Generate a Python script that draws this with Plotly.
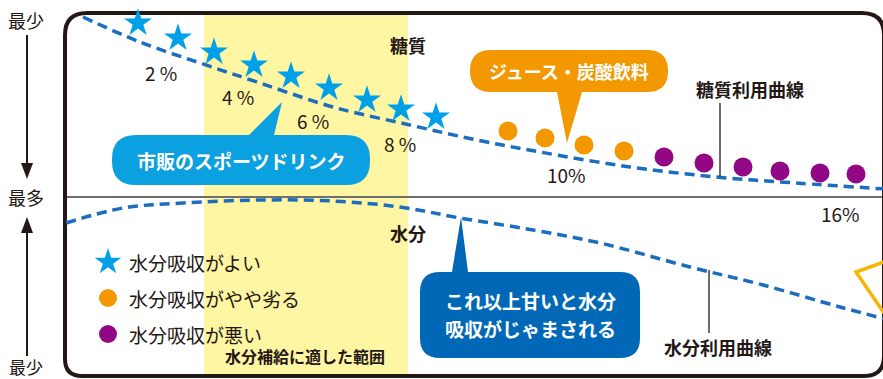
import plotly.graph_objects as go

# ---- data (pixel-domain coordinates, y grows downward) ----
star_x = [138, 178, 214, 254, 291, 329, 367, 401, 436]
star_y = [23, 38, 52, 65, 76, 88, 100, 109, 117]
orange_x = [508, 545, 584, 624]
orange_y = [131, 138, 145, 151]
purple_x = [664, 704, 743, 780, 820, 856]
purple_y = [157, 163, 167, 171, 173, 174]

sugar_x = [83, 140, 200, 260, 333, 410, 477, 540, 630, 716, 796, 885]
sugar_y = [17, 42, 63, 83, 107, 125, 140, 152, 167, 177, 183, 189]
water_x = [66, 123, 183, 260, 333, 400, 460, 533, 600, 690, 763, 840, 885]
water_y = [223, 208, 203, 200, 201, 207, 218, 230, 243, 267, 285, 307, 319]

pct_labels = ["2 %", "4 %", "6 %", "8 %", "10%", "16%"]
pct_x = [161, 238, 313, 400, 566, 840]
pct_y = [72, 96, 120, 143, 174, 213]

legend_labels = ["水分吸収がよい", "水分吸収がやや劣る", "水分吸収が悪い"]
legend_y = [262, 298, 334]
legend_x = [108, 108, 108]

STAR = "#00A0E9"
ORANGE = "#F39800"
PURPLE = "#920783"
LINE = "#1A6DBF"
DARK = "#231815"
FONT = "Noto Sans CJK JP"

fig = go.Figure()

# curves
fig.add_trace(go.Scatter(x=sugar_x, y=sugar_y, mode="lines", line=dict(color=LINE, width=3.5, dash="10px,6px", shape="spline"), hoverinfo="skip"))
fig.add_trace(go.Scatter(x=water_x, y=water_y, mode="lines", line=dict(color=LINE, width=3.5, dash="10px,6px", shape="spline"), hoverinfo="skip"))

# markers
fig.add_trace(go.Scatter(x=star_x, y=star_y, mode="markers", marker=dict(symbol="star", size=21, color=STAR, opacity=1, line=dict(width=0))))
fig.add_trace(go.Scatter(x=orange_x, y=orange_y, mode="markers", marker=dict(symbol="circle", size=19, color=ORANGE, opacity=1, line=dict(width=0))))
fig.add_trace(go.Scatter(x=purple_x, y=purple_y, mode="markers", marker=dict(symbol="circle", size=19, color=PURPLE, opacity=1, line=dict(width=0))))

# legend markers
for sym, sz, col, lx, ly in zip(["star", "circle", "circle"], [20, 18, 18], [STAR, ORANGE, PURPLE], legend_x, legend_y):
    fig.add_trace(go.Scatter(x=[lx], y=[ly], mode="markers",
                             marker=dict(symbol=sym, size=sz, color=col, opacity=1, line=dict(width=0))))

shapes = []
# yellow band
shapes.append(dict(type="rect", x0=204, x1=408, y0=14, y1=376, fillcolor="#FFF6A3", line=dict(width=0), layer="below"))
# middle line
shapes.append(dict(type="line", x0=66, x1=885, y0=197, y1=197, line=dict(color="#6E6E6E", width=2.2), layer="below"))
# frame
shapes.append(dict(type="path",
                   path="M 87,13 L 862,13 Q 884,13 884,35 L 884,356 Q 884,376 864,376 L 82,376 Q 65,376 65,359 L 65,35 Q 65,13 87,13 Z",
                   line=dict(color=DARK, width=4), fillcolor="rgba(0,0,0,0)", layer="below"))
# left arrows
shapes.append(dict(type="line", x0=27, x1=27, y0=35, y1=166, line=dict(color=DARK, width=2)))
shapes.append(dict(type="path", path="M 21,163 L 33,163 L 27,179 Z", fillcolor=DARK, line=dict(width=0)))
shapes.append(dict(type="line", x0=27, x1=27, y0=230, y1=356, line=dict(color=DARK, width=2)))
shapes.append(dict(type="path", path="M 21,233 L 33,233 L 27,217 Z", fillcolor=DARK, line=dict(width=0)))

# callouts
def callout(x0, x1, y0, y1, r, ptr, color):
    bx0, bx1, tx, ty, side = ptr
    if side == "top":
        p = (f"M {x0+r},{y0} L {bx0},{y0} L {tx},{ty} L {bx1},{y0} L {x1-r},{y0} Q {x1},{y0} {x1},{y0+r} "
             f"L {x1},{y1-r} Q {x1},{y1} {x1-r},{y1} L {x0+r},{y1} Q {x0},{y1} {x0},{y1-r} "
             f"L {x0},{y0+r} Q {x0},{y0} {x0+r},{y0} Z")
    else:
        p = (f"M {x0+r},{y0} L {x1-r},{y0} Q {x1},{y0} {x1},{y0+r} L {x1},{y1-r} Q {x1},{y1} {x1-r},{y1} "
             f"L {bx1},{y1} L {tx},{ty} L {bx0},{y1} L {x0+r},{y1} Q {x0},{y1} {x0},{y1-r} "
             f"L {x0},{y0+r} Q {x0},{y0} {x0+r},{y0} Z")
    return dict(type="path", path=p, fillcolor=color, line=dict(width=0), layer="above")

shapes.append(callout(112, 370, 135, 185, 24, (249, 274, 282, 102, "top"), "#0BA0E0"))
shapes.append(callout(470, 668, 50, 92, 21, (557, 582, 567, 143, "bottom"), ORANGE))
shapes.append(callout(420, 640, 272, 358, 20, (452, 468, 461, 217, "top"), "#0068B7"))

# leader lines
shapes.append(dict(type="line", x0=720, x1=720, y0=103, y1=177, line=dict(color="#3E3A39", width=1.5)))
shapes.append(dict(type="line", x0=709, x1=709, y0=270, y1=333, line=dict(color="#3E3A39", width=1.5)))
# yellow star outline fragment at right edge
shapes.append(dict(type="path", path="M 884,262 L 856,272 L 884,313", line=dict(color="#F8B500", width=3.5), fillcolor="rgba(0,0,0,0)"))

ann = []
def text(x, y, s, size=15, color=DARK, xanchor="center"):
    ann.append(dict(x=x, y=y, text=s, showarrow=False, xanchor=xanchor, yanchor="middle",
                    font=dict(family=FONT, size=size, color=color)))

text(26, 20, "最少", 18)
text(26, 197, "最多", 18)
text(26, 366, "最少", 17)
for s, x, y in zip(pct_labels, pct_x, pct_y):
    text(x, y, s, 19)
text(408, 45, "<b>糖質</b>", 18)
text(408, 233, "<b>水分</b>", 18)
text(750, 89, "<b>糖質利用曲線</b>", 18)
text(718, 347, "<b>水分利用曲線</b>", 18)
text(305, 356, "<b>水分補給に適した範囲</b>", 16)
text(241, 160, "<b>市販のスポーツドリンク</b>", 19, "white")
text(569, 71, "<b>ジュース・炭酸飲料</b>", 18, "white")
text(530, 300, "<b>これ以上甘いと水分</b>", 19, "white")
text(530, 328, "<b>吸収がじゃまされる</b>", 19, "white")
for s, lx, ly in zip(legend_labels, legend_x, legend_y):
    text(lx + 19, ly, s, 19, xanchor="left")

fig.update_layout(
    width=883, height=379, autosize=False,
    margin=dict(l=0, r=0, t=0, b=0, pad=0),
    paper_bgcolor="white", plot_bgcolor="white",
    showlegend=False,
    xaxis=dict(range=[0, 883], visible=False, fixedrange=True),
    yaxis=dict(range=[379, 0], visible=False, fixedrange=True),
    shapes=shapes, annotations=ann,
    font=dict(family=FONT),
)
fig.write_html("out.html", config={"displayModeBar": False, "staticPlot": True},
               post_script="document.body.style.margin='0';document.body.style.overflow='hidden';")
